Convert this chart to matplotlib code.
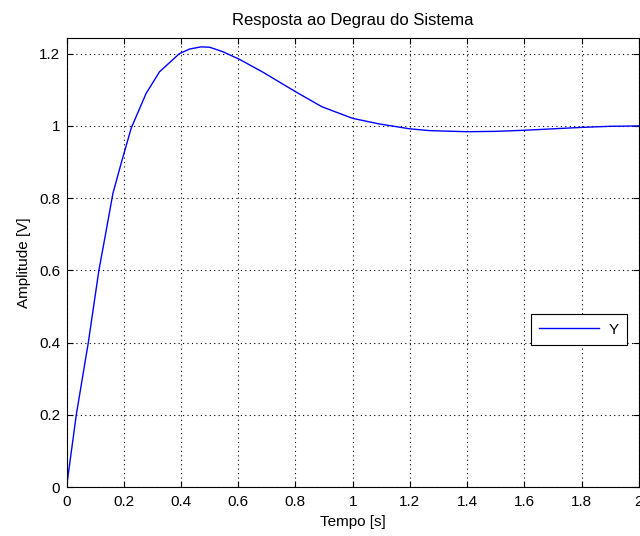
import numpy as np
import matplotlib
matplotlib.use('Agg')
import matplotlib.pyplot as plt

# step response
t = [0, 0.034, 0.076, 0.113, 0.139, 0.162, 0.191, 0.226, 0.278, 0.325, 0.394, 0.43,
     0.47, 0.5, 0.545, 0.603, 0.684, 0.8, 0.893, 1.0, 1.09, 1.2, 1.27, 1.4, 1.5,
     1.6, 1.7, 1.8, 1.9, 2.0]
y = [0, 0.2, 0.4, 0.6, 0.712, 0.813, 0.897, 0.994, 1.09, 1.15, 1.20, 1.213,
     1.219, 1.218, 1.206, 1.185, 1.150, 1.095, 1.053, 1.021, 1.006, 0.992, 0.987, 0.984, 0.985,
     0.988, 0.992, 0.996, 0.999, 1.0]

xticks = [0, 0.2, 0.4, 0.6, 0.8, 1, 1.2, 1.4, 1.6, 1.8, 2]
xtlabels = ['0', '0.2', '0.4', '0.6', '0.8', '1', '1.2', '1.4', '1.6', '1.8', '2']
yticks = [0, 0.2, 0.4, 0.6, 0.8, 1, 1.2]
ytlabels = ['0', '0.2', '0.4', '0.6', '0.8', '1', '1.2']

plt.rcParams['font.family'] = ['Liberation Sans', 'DejaVu Sans']
fs = 11

fig = plt.figure(figsize=(6.4, 5.36), dpi=100)
ax = fig.add_axes([0.104, 0.0914, 0.894, 0.838])

ax.plot(t, y, color='#0000ff', lw=1, label='Y')

ax.set_xlim(0, 2)
ax.set_ylim(0, 1.244)
ax.set_xticks(xticks)
ax.set_xticklabels(xtlabels, fontsize=fs)
ax.set_yticks(yticks)
ax.set_yticklabels(ytlabels, fontsize=fs)
ax.xaxis.set_ticks_position('both')
ax.yaxis.set_ticks_position('both')
ax.tick_params(direction='in', length=4, width=0.8)
ax.tick_params(axis='x', pad=6)
ax.tick_params(axis='y', pad=4.5)
ax.grid(True, color='black', linestyle=(0, (1, 3)), lw=0.8)

ax.set_xlabel('Tempo [s]', fontsize=fs, labelpad=4)
ax.set_ylabel('Amplitude [V]', fontsize=fs, labelpad=6)
ax.set_title('Resposta ao Degrau do Sistema', fontsize=12, pad=9)

leg = ax.legend(loc='lower right', bbox_to_anchor=(0.979, 0.316), fontsize=fs,
                fancybox=False, framealpha=1, edgecolor='black',
                handlelength=3.9, handletextpad=0.6, borderpad=0.55,
                borderaxespad=0)
leg.get_frame().set_linewidth(0.8)

fig.savefig('out.png', dpi=100)
